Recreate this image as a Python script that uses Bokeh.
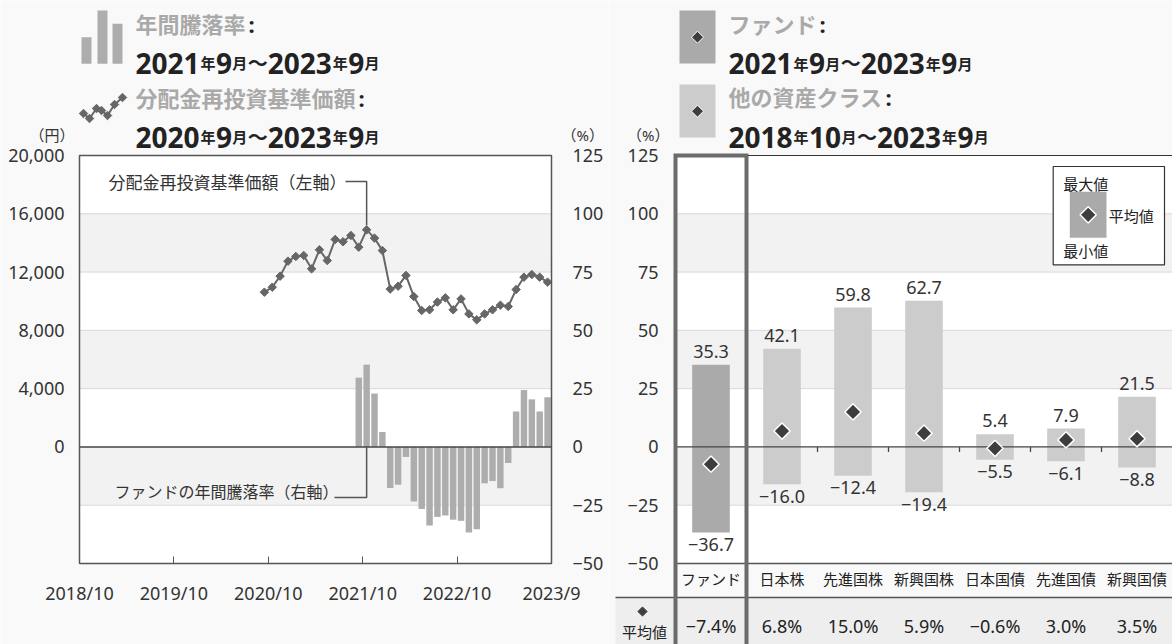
import math
import re
from bokeh.plotting import figure
from bokeh.models import Range1d, LinearAxis, FixedTicker, NumeralTickFormatter
from bokeh.layouts import row
from bokeh.core.properties import value
from bokeh.embed import file_html
from bokeh.resources import INLINE

# ---------------- data ----------------
nav_start = "2020/9"
nav_values = [10620, 10960, 11720, 12750, 13070, 13140, 12220, 13530, 12790, 14240,
              14080, 14510, 13710, 14900, 14330, 13480, 10830, 11030, 11770, 10320,
              9360, 9410, 9940, 10230, 9410, 10160, 9130, 8720, 9130, 9410,
              9730, 9640, 10800, 11650, 11830, 11650, 11310]
ret_start = "2021/9"
ret_values = [29.7, 35.3, 22.9, 6.4, -17.6, -16.2, -4.3, -23.4, -26.6, -33.7,
              -30.0, -29.4, -31.2, -31.7, -36.7, -35.3, -15.6, -14.6, -17.7, -6.9,
              15.2, 24.4, 20.4, 15.2, 21.3]
x_tick_labels = ["2018/10", "2019/10", "2020/10", "2021/10", "2022/10", "2023/9"]
yen_ticks = [0, 4000, 8000, 12000, 16000, 20000]
pct_ticks = [-50, -25, 0, 25, 50, 75, 100, 125]

categories = ["ファンド", "日本株", "先進国株", "新興国株", "日本国債", "先進国債", "新興国債"]
max_values = [35.3, 42.1, 59.8, 62.7, 5.4, 7.9, 21.5]
min_values = [-36.7, -16.0, -12.4, -19.4, -5.5, -6.1, -8.8]
avg_values = [-7.4, 6.8, 15.0, 5.9, -0.6, 3.0, 3.5]

legend_left = [("年間騰落率", "2021年9月～2023年9月"),
               ("分配金再投資基準価額", "2020年9月～2023年9月")]
legend_right = [("ファンド", "2021年9月～2023年9月"),
                ("他の資産クラス", "2018年10月～2023年9月")]
note_nav = "分配金再投資基準価額（左軸）"
note_ret = "ファンドの年間騰落率（右軸）"
box_labels = ["最大値", "平均値", "最小値"]
avg_row_label = "平均値"
unit_yen, unit_pct = "（円）", "（%）"

# ---------------- styles ----------------
FONT = "'Noto Sans', 'Noto Sans CJK JP', sans-serif"
BG = "#f9f9f9"
BAND = "#f2f2f2"
GRID = "#d9d9d9"
TXT = "#333333"
DARK = "#222222"
LEG_GRAY = "#a9a9a9"
FUND_C = "#aaaaaa"
OTHER_C = "#cccccc"
BAR_L = "#adadad"
RATIO = yen_ticks[-1] / pct_ticks[-1]

H = 644
W1, W2 = 608, 564
OFF = 0
FL, FR, FT, FB = 79, 551, 155, 563          # frame of left chart (page px)
N_MONTHS = 60
xpp = N_MONTHS / (FR - FL)
ypp = (yen_ticks[-1] - pct_ticks[0] * RATIO) / (FB - FT)
ppu = (pct_ticks[-1] - pct_ticks[0]) / (FB - FT)   # pct per px


def LX(px):
    return (px - FL) * xpp


def LY(py):
    return yen_ticks[-1] - (py - FT) * ypp


COL_L = 675
COL_PX = (OFF + W1 + W2 - COL_L) / len(categories)


def RX(px):
    return -0.5 + (px - COL_L) / COL_PX


def RXr(px):
    return -0.5 + (px - COL_L) / 71.0


def RY(py):
    return pct_ticks[-1] - (py - FT) * ppu


def midx(s):
    y, m = map(int, s.split("/"))
    return (y - 2018) * 12 + (m - 10)


def txt(p, x, y, s, size, color=TXT, align="left", baseline="middle", bold=False, **kw):
    p.text(x=[x], y=[y], text=[s], text_font=value(FONT), text_font_size=value(f"{size}px"),
           text_color=color, text_align=align, text_baseline=baseline,
           text_font_style="bold" if bold else "normal", **kw)


def date_run(p, X, Y, px, py_base, s):
    x = px
    for tok in re.findall(r"\d+|\D", s):
        if tok.isdigit():
            size, adv = 28, 0.58 * 28 * len(tok)
        elif tok == "～":
            size, adv = 20, 20
        else:
            size, adv = 15, 15.5
        txt(p, X(x), Y(py_base), tok, size, color=DARK, baseline="alphabetic", bold=True)
        x += adv


def title_run(p, X, Y, px, py, s):
    txt(p, X(px), Y(py), s, 22, color=LEG_GRAY, bold=True)
    txt(p, X(px + 22 * len(s) + 3), Y(py), ":", 22, color=DARK, bold=True)


def mk_fig(width, xr, yr):
    p = figure(width=width, height=H, x_range=xr, y_range=yr, output_backend="svg",
               toolbar_location=None, tools="", min_border=0,
               x_axis_location=None, y_axis_location=None,
               background_fill_color=BG, border_fill_color=BG, outline_line_color=None)
    p.grid.visible = False
    return p


def axis_style(ax, standoff):
    ax.axis_line_color = None
    ax.major_tick_line_color = None
    ax.minor_tick_line_color = None
    ax.major_label_standoff = standoff
    ax.major_label_text_font = FONT
    ax.major_label_text_font_size = "18px"
    ax.major_label_text_color = TXT


def minus(s):
    return s.replace("-", "\u2212")


# ================= left chart =================
p1 = mk_fig(W1, Range1d(LX(OFF), LX(OFF + W1)), Range1d(LY(OFF + H), LY(OFF)))
p1.extra_y_ranges = {"pct": Range1d(LY(OFF + H) / RATIO, LY(OFF) / RATIO)}

yen_all = [t * RATIO for t in pct_ticks]
y_lo, y_hi = yen_all[0], yen_all[-1]
p1.quad(left=[0], right=[N_MONTHS], bottom=[y_lo], top=[y_hi], fill_color="white", line_color=None)
band_b = [yen_all[i] for i in range(1, len(yen_all) - 1, 2)]
band_t = [yen_all[i + 1] for i in range(1, len(yen_all) - 1, 2)]
p1.quad(left=0, right=N_MONTHS, bottom=band_b, top=band_t, fill_color=BAND, line_color=None)
grid_y = [t for t in yen_all[1:-1] if t != 0]
p1.segment(x0=0, x1=N_MONTHS, y0=grid_y, y1=grid_y, line_color=GRID, line_width=1)

ret_x = [midx(ret_start) + i + 0.5 for i in range(len(ret_values))]
p1.vbar(x=ret_x, top=ret_values, bottom=0, width=0.82, fill_color=BAR_L, line_color=None,
        y_range_name="pct")
p1.segment(x0=[0], x1=[N_MONTHS], y0=[0], y1=[0], line_color="#444444", line_width=1.5)

nav_x = [midx(nav_start) + i + 0.5 for i in range(len(nav_values))]
p1.line(nav_x, nav_values, line_color="#666666", line_width=2)
p1.scatter(nav_x, nav_values, marker="square", angle=math.pi / 4, size=6,
           fill_color="#666666", line_color="#666666")

p1.quad(left=[0], right=[N_MONTHS], bottom=[y_lo], top=[y_hi], fill_color=None,
        line_color="#555555", line_width=1.5)

# annotations with leader lines
i_pk = max(range(len(nav_values)), key=lambda i: nav_values[i])
xa = nav_x[i_pk]
txt(p1, LX(346), LY(182), note_nav, 17, color=TXT, align="right")
p1.line([LX(345), xa, xa], [LY(181), LY(181), nav_values[i_pk] + 4.5 * ypp],
        line_color="#555555", line_width=1.5)
i_rk = max(range(len(ret_values)), key=lambda i: ret_values[i])
xb = ret_x[i_rk]
txt(p1, LX(338), LY(491), note_ret, 16, color=TXT, align="right")
p1.line([LX(334), xb, xb], [LY(497), LY(497), 0], line_color="#555555", line_width=1.5)

# axes
ax_yen = LinearAxis(ticker=FixedTicker(ticks=yen_ticks), formatter=NumeralTickFormatter(format="0,0"),
                    fixed_location=0)
axis_style(ax_yen, 9)
p1.add_layout(ax_yen, "left")
ax_pct = LinearAxis(y_range_name="pct", ticker=FixedTicker(ticks=pct_ticks),
                    major_label_overrides={t: minus(str(t)) for t in pct_ticks},
                    fixed_location=N_MONTHS)
axis_style(ax_pct, 15)
p1.add_layout(ax_pct, "right")
tick_pos = [midx(s) for s in x_tick_labels[:-1]] + [midx(x_tick_labels[-1]) + 1]
ax_x = LinearAxis(ticker=FixedTicker(ticks=tick_pos),
                  major_label_overrides=dict(zip(tick_pos, x_tick_labels)),
                  fixed_location=y_lo)
axis_style(ax_x, 17)
ax_x.major_tick_line_color = "#555555"
ax_x.major_tick_in = 7
ax_x.major_tick_out = 0
p1.add_layout(ax_x, "below")

# units
txt(p1, LX(74), LY(134), unit_yen, 15, align="right")
txt(p1, LX(561), LY(134), unit_pct, 15, align="left")

# legend (left)
p1.quad(left=[LX(81), LX(97), LX(112)], right=[LX(91), LX(107), LX(122)],
        top=[LY(36.7), LY(10), LY(23.3)], bottom=[LY(63.3)] * 3, fill_color=BAR_L, line_color=None)
icon_px = [(83, 113), (89, 118), (96, 108), (101, 110), (107, 115), (114, 104), (122, 97)]
ix = [LX(a) for a, b in icon_px]
iy = [LY(b) for a, b in icon_px]
p1.line(ix, iy, line_color="#666666", line_width=2)
p1.scatter(ix, iy, marker="square", angle=math.pi / 4, size=6, fill_color="#666666", line_color="#666666")
title_run(p1, LX, LY, 135, 23, legend_left[0][0])
date_run(p1, LX, LY, 135, 62.7, legend_left[0][1])
title_run(p1, LX, LY, 135, 97, legend_left[1][0])
date_run(p1, LX, LY, 135, 136.7, legend_left[1][1])

# ================= right chart =================
p2 = mk_fig(W2, Range1d(RX(OFF + W1), RX(OFF + W1 + W2)), Range1d(RY(OFF + H), RY(OFF)))
n = len(categories)
cx = list(range(n))
c_lo, c_hi = -0.5, n - 0.5
p2.quad(left=[c_lo], right=[c_hi], bottom=[pct_ticks[0]], top=[pct_ticks[-1]], fill_color="white", line_color=None)
pb = [pct_ticks[i] for i in range(1, len(pct_ticks) - 1, 2)]
pt = [pct_ticks[i + 1] for i in range(1, len(pct_ticks) - 1, 2)]
p2.quad(left=c_lo, right=c_hi, bottom=pb, top=pt, fill_color=BAND, line_color=None)
gy = [t for t in pct_ticks[1:-1] if t != 0]
p2.segment(x0=c_lo, x1=c_hi, y0=gy, y1=gy, line_color=GRID, line_width=1)

colors = [FUND_C] + [OTHER_C] * (n - 1)
p2.vbar(x=cx, bottom=min_values, top=max_values, width=0.53, fill_color=colors, line_color=None)
p2.segment(x0=[c_lo], x1=[c_hi], y0=[0], y1=[0], line_color="#444444", line_width=1.3)
bx = [k + 0.5 for k in range(1, n - 1)]
p2.segment(x0=bx, x1=bx, y0=0, y1=-5 * ppu, line_color="#444444", line_width=1.3)

p2.segment(x0=[0.5], x1=[c_hi], y0=[pct_ticks[-1]], y1=[pct_ticks[-1]], line_color="#333333", line_width=1.2)
p2.segment(x0=[c_lo], x1=[c_hi], y0=[pct_ticks[0]], y1=[pct_ticks[0]], line_color="#555555", line_width=1.5)

# table
sep_y = RY(597)
p2.quad(left=[RX(615)], right=[c_hi], bottom=[RY(OFF + H + 10)], top=[sep_y], fill_color="#eeeeee", line_color=None)
p2.segment(x0=[RX(615)], x1=[c_hi], y0=[sep_y], y1=[sep_y], line_color="#555555", line_width=1.5)

# value labels
p2.text(x=cx, y=[v + 13.5 * ppu for v in max_values], text=[minus(f"{v:.1f}") for v in max_values],
        text_font=value(FONT), text_font_size=value("18px"), text_color=TXT,
        text_align="center", text_baseline="middle")
p2.text(x=cx, y=[v - 12 * ppu for v in min_values], text=[minus(f"{v:.1f}") for v in min_values],
        text_font=value(FONT), text_font_size=value("18px"), text_color=TXT,
        text_align="center", text_baseline="middle")
p2.scatter(x=cx, y=avg_values, marker="square", angle=math.pi / 4, size=11.5,
           fill_color="#3d3d3d", line_color="white", line_width=1.5)
p2.text(x=cx, y=RY(578), text=categories, text_font=value(FONT), text_font_size=value("15px"),
        text_color=DARK, text_align="center", text_baseline="middle")
p2.text(x=cx, y=RY(625), text=[minus(f"{v:.1f}%") for v in avg_values], text_font=value(FONT),
        text_font_size=value("18px"), text_color=DARK, text_align="center", text_baseline="middle")
p2.scatter(x=[RX(642)], y=[RY(611)], marker="square", angle=math.pi / 4, size=6.5,
           fill_color="#3d3d3d", line_color="#3d3d3d")
txt(p2, RX(644), RY(631), avg_row_label, 15, color=DARK, align="center")

# fund highlight box
p2.quad(left=[-0.5], right=[0.5], top=[pct_ticks[-1]], bottom=[RY(OFF + H + 20)], fill_color=None,
        line_color="#6b6b6b", line_width=4, line_join="miter")

# in-chart legend box
p2.quad(left=[RXr(1052.7)], right=[RXr(1164)], top=[RY(166)], bottom=[RY(264.3)], fill_color="white",
        line_color="#333333", line_width=1.2)
p2.quad(left=[RXr(1069.3)], right=[RXr(1106)], top=[RY(191.3)], bottom=[RY(237.3)], fill_color=FUND_C,
        line_color=None)
p2.scatter(x=[RXr(1087.7)], y=[RY(214.3)], marker="square", angle=math.pi / 4, size=11.5,
           fill_color="#3d3d3d", line_color="white", line_width=1.5)
txt(p2, RXr(1062.7), RY(183.3), box_labels[0], 15, color=DARK)
txt(p2, RXr(1108.3), RY(215), box_labels[1], 15, color=DARK)
txt(p2, RXr(1062.7), RY(250), box_labels[2], 15, color=DARK)

# axis
ax_r = LinearAxis(ticker=FixedTicker(ticks=pct_ticks),
                  major_label_overrides={t: minus(str(t)) for t in pct_ticks},
                  fixed_location=c_lo)
axis_style(ax_r, 11)
p2.add_layout(ax_r, "left")
txt(p2, RX(669), RY(134), unit_pct, 15, align="right")

# top legend (right)
p2.quad(left=[RXr(679)] * 2, right=[RXr(715)] * 2, top=[RY(10), RY(84)], bottom=[RY(63), RY(137)],
        fill_color=[FUND_C, OTHER_C], line_color=None)
p2.scatter(x=[RXr(697)] * 2, y=[RY(36.7), RY(110.7)], marker="square", angle=math.pi / 4, size=8.5,
           fill_color="#3d3d3d", line_color="white", line_width=1)
title_run(p2, RXr, RY, 728, 23.3, legend_right[0][0])
date_run(p2, RXr, RY, 728, 63.3, legend_right[0][1])
title_run(p2, RXr, RY, 728, 96.5, legend_right[1][0])
date_run(p2, RXr, RY, 728, 136.7, legend_right[1][1])

layout = row(p1, p2)
open("out.html", "w").write(file_html(layout, INLINE))
